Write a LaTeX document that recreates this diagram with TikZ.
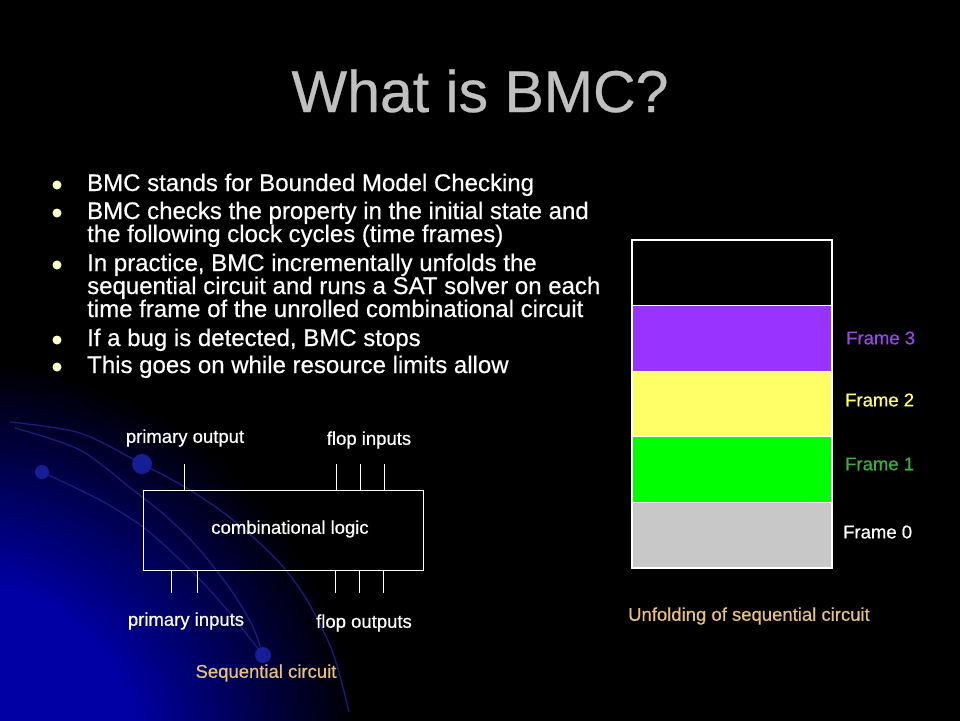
\documentclass[tikz,border=0pt]{standalone}
\usepackage{fontspec}
\setmainfont{Liberation Sans}
\newfontfamily\slidefont[FakeBold=0.5]{Liberation Sans}
\usetikzlibrary{positioning}
\definecolor{glowblue}{RGB}{0,0,165}
\definecolor{curveblue}{RGB}{28,28,125}
\definecolor{dotblue}{RGB}{20,30,150}
\definecolor{titlegray}{RGB}{192,192,192}
\definecolor{bulletyellow}{RGB}{255,255,204}
\definecolor{labelorange}{RGB}{232,192,128}
\definecolor{framepurple}{RGB}{153,51,255}
\definecolor{frameyellow}{RGB}{255,255,102}
\definecolor{framegreen}{RGB}{0,255,0}
\definecolor{framegray}{RGB}{200,200,200}
\definecolor{textpurple}{RGB}{150,70,235}
\definecolor{textgreen}{RGB}{60,175,60}
\pgfdeclareradialshading{bmcglow}{\pgfpoint{0bp}{0bp}}{color(0bp)=(glowblue); color(11bp)=(glowblue); color(25bp)=(black); color(50bp)=(black)}

\begin{document}
\begin{tikzpicture}[x=1pt,y=-1pt,
  body/.style={anchor=base west,inner sep=0pt,text=white,font=\slidefont\fontsize{24}{23}\selectfont},
  small/.style={inner sep=0pt,text=white,font=\slidefont\fontsize{18.5}{20}\selectfont},
  bullet/.style={circle,fill=bulletyellow,minimum size=9pt,inner sep=0pt},
  framebox/.style={draw=white,line width=1.2pt,minimum width=200pt,minimum height=65.6pt,inner sep=0pt,outer sep=0pt},
  pin/.style={white,line width=0.8pt},
  bgcurve/.style={curveblue,line width=1.3pt}]
	% background
	\useasboundingbox (0,0) rectangle (960,720);
	\fill[black] (-3,-3) rectangle (963,723);
	\begin{scope}
		\clip (-1,-1) rectangle (961,721);
		\shade[shading=bmcglow] (-40,760) circle (400);
		\draw[bgcurve] plot[smooth] coordinates {(10,422) (80,433) (142,464) (190,490) (233,520) (277,560) (307,600) (333,653) (349,712)};
		\draw[bgcurve] plot[smooth] coordinates {(15,428) (80,450) (133,490) (167,517) (200,550) (233,593) (253,627) (263,655)};
		\draw[bgcurve] plot[smooth] coordinates {(42,472) (100,500) (143,527) (177,557) (207,587) (233,617) (263,655)};
		\fill[dotblue] (142,464) circle (10);
		\fill[dotblue] (42,472) circle (7);
		\fill[dotblue] (263,655) circle (8);
	\end{scope}
	% title
	\node[anchor=base,inner sep=0pt,text=titlegray,font=\slidefont\fontsize{59}{60}\selectfont] (title) at (480,112) {What is BMC?};
	% bullet list
	\node[bullet] (b1) at (57,185) {};
	\node[body] (t1) at (87,191) {BMC stands for Bounded Model Checking};
	\node[bullet] (b2) at (57,213) {};
	\node[body] (t2a) at (87,219) {BMC checks the property in the initial state and};
	\node[body] (t2b) at (87,242) {the following clock cycles (time frames)};
	\node[bullet] (b3) at (57,265) {};
	\node[body] (t3a) at (87,271) {In practice, BMC incrementally unfolds the};
	\node[body] (t3b) at (87,294) {sequential circuit and runs a SAT solver on each};
	\node[body] (t3c) at (87,317) {time frame of the unrolled combinational circuit};
	\node[bullet] (b4) at (57,340) {};
	\node[body] (t4) at (87,346) {If a bug is detected, BMC stops};
	\node[bullet] (b5) at (57,367) {};
	\node[body] (t5) at (87,373) {This goes on while resource limits allow};
	% sequential circuit
	\node[draw=white,line width=1pt,minimum width=280pt,minimum height=80pt,inner sep=0pt] (logic) at (283,530) {};
	\node[small] (logiclbl) at (290,529) {combinational logic};
	\foreach \x [count=\i] in {184,336,360,384} {
		\coordinate (top\i) at (\x,464);
		\draw[pin] (top\i) -- (top\i |- logic.north);
	}
	\foreach \x [count=\i] in {171,197,335,359,383} {
		\coordinate (bot\i) at (\x,593);
		\draw[pin] (logic.south -| bot\i) -- (bot\i);
	}
	\node[small] (po) at (185,438) {primary output};
	\node[small] (fi) at (369,440) {flop inputs};
	\node[small] (pi) at (186,621) {primary inputs};
	\node[small] (fo) at (364,623) {flop outputs};
	\node[small,text=labelorange] (seq) at (266,673) {Sequential circuit};
	% unfolded frames
	\node[framebox] (f4) at (732,272.8) {};
	\node[framebox,fill=framepurple,below=0pt of f4] (f3) {};
	\node[framebox,fill=frameyellow,below=0pt of f3] (f2) {};
	\node[framebox,fill=framegreen,below=0pt of f2] (f1) {};
	\node[framebox,fill=framegray,below=0pt of f1] (f0) {};
	\node[small,anchor=west,text=textpurple] (l3) at (846,338) {Frame 3};
	\node[small,anchor=west,text=frameyellow] (l2) at (845,400) {Frame 2};
	\node[small,anchor=west,text=textgreen] (l1) at (845,464) {Frame 1};
	\node[small,anchor=west] (l0) at (843,532) {Frame 0};
	\node[small,text=labelorange] (unfold) at (749,616) {Unfolding of sequential circuit};
\end{tikzpicture}
\end{document}
